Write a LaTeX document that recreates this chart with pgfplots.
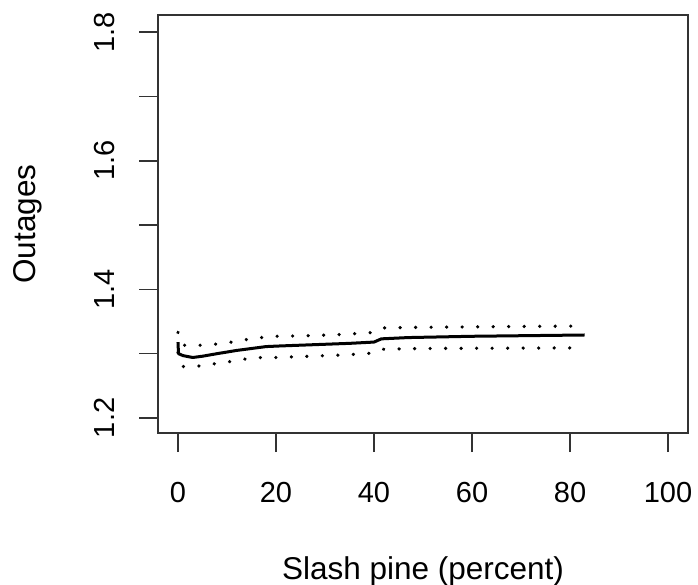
\documentclass[border=0pt]{standalone}
\usepackage{fontspec}
\setmainfont{Liberation Sans}
\usepackage{pgfplots}
\pgfplotsset{compat=1.18}
\begin{document}
\begin{tikzpicture}[x=1pt,y=1pt]
\useasboundingbox (-158pt,-152pt) rectangle (540pt,433pt);
\begin{axis}[
  at={(0pt,0pt)}, anchor=south west,
  scale only axis, width=530pt, height=418pt,
  xmin=-4.08, xmax=104.08, ymin=1.1766, ymax=1.8266,
  xtick={0,20,40,60,80,100},
  ytick={1.2,1.3,1.4,1.5,1.6,1.7,1.8},
  yticklabels={1.2,,1.4,,1.6,,1.8},
  tick align=outside, major tick length=19pt,
  xtick pos=bottom, ytick pos=left,
  axis line style={black!80, line width=1.6pt},
  every tick/.style={black!80, line width=1.6pt},
  /pgf/number format/assume math mode=true,
  tick label style={font=\fontsize{29}{35}\selectfont},
  yticklabel style={rotate=90, anchor=south, inner sep=0pt},
  yticklabel shift=24pt,
  xticklabel style={anchor=north, inner sep=0pt, yshift=-30pt},
  label style={font=\fontsize{31.5}{38}\selectfont},
  xlabel={Slash pine (percent)},
  ylabel={Outages},
  xlabel style={at={(axis description cs:0.5,-0.33)}, anchor=center},
  ylabel style={at={(axis description cs:-0.245,0.5)}, anchor=center, rotate=0},
  clip=false,
]
\addplot[black, line width=3pt, line join=round] coordinates {
(0,1.318) (0.1,1.300) (1,1.297) (3,1.294) (5,1.296) (8,1.300) (12,1.305)
(15,1.308) (18,1.311) (21,1.312) (28,1.314) (35,1.316) (40,1.318)
(41.5,1.323) (47,1.325) (60,1.327) (83,1.329)};
\addplot[black, line width=3.6pt, line cap=round, dash pattern=on 0.01pt off 15.5pt] coordinates {
(0,1.333) (1,1.313) (5,1.313) (8,1.315) (11,1.318) (14,1.322) (17,1.325)
(20,1.327) (27,1.328) (34,1.330) (40,1.333) (42,1.340) (50,1.341) (83,1.343)};
\addplot[black, line width=3.6pt, line cap=round, dash pattern=on 0.01pt off 15.5pt] coordinates {
(0,1.302) (1,1.280) (5,1.281) (8,1.285) (11,1.288) (14,1.292) (17,1.294)
(20,1.294) (27,1.296) (34,1.298) (40,1.301) (42,1.307) (50,1.308) (83,1.309)};
\end{axis}
\end{tikzpicture}
\end{document}
